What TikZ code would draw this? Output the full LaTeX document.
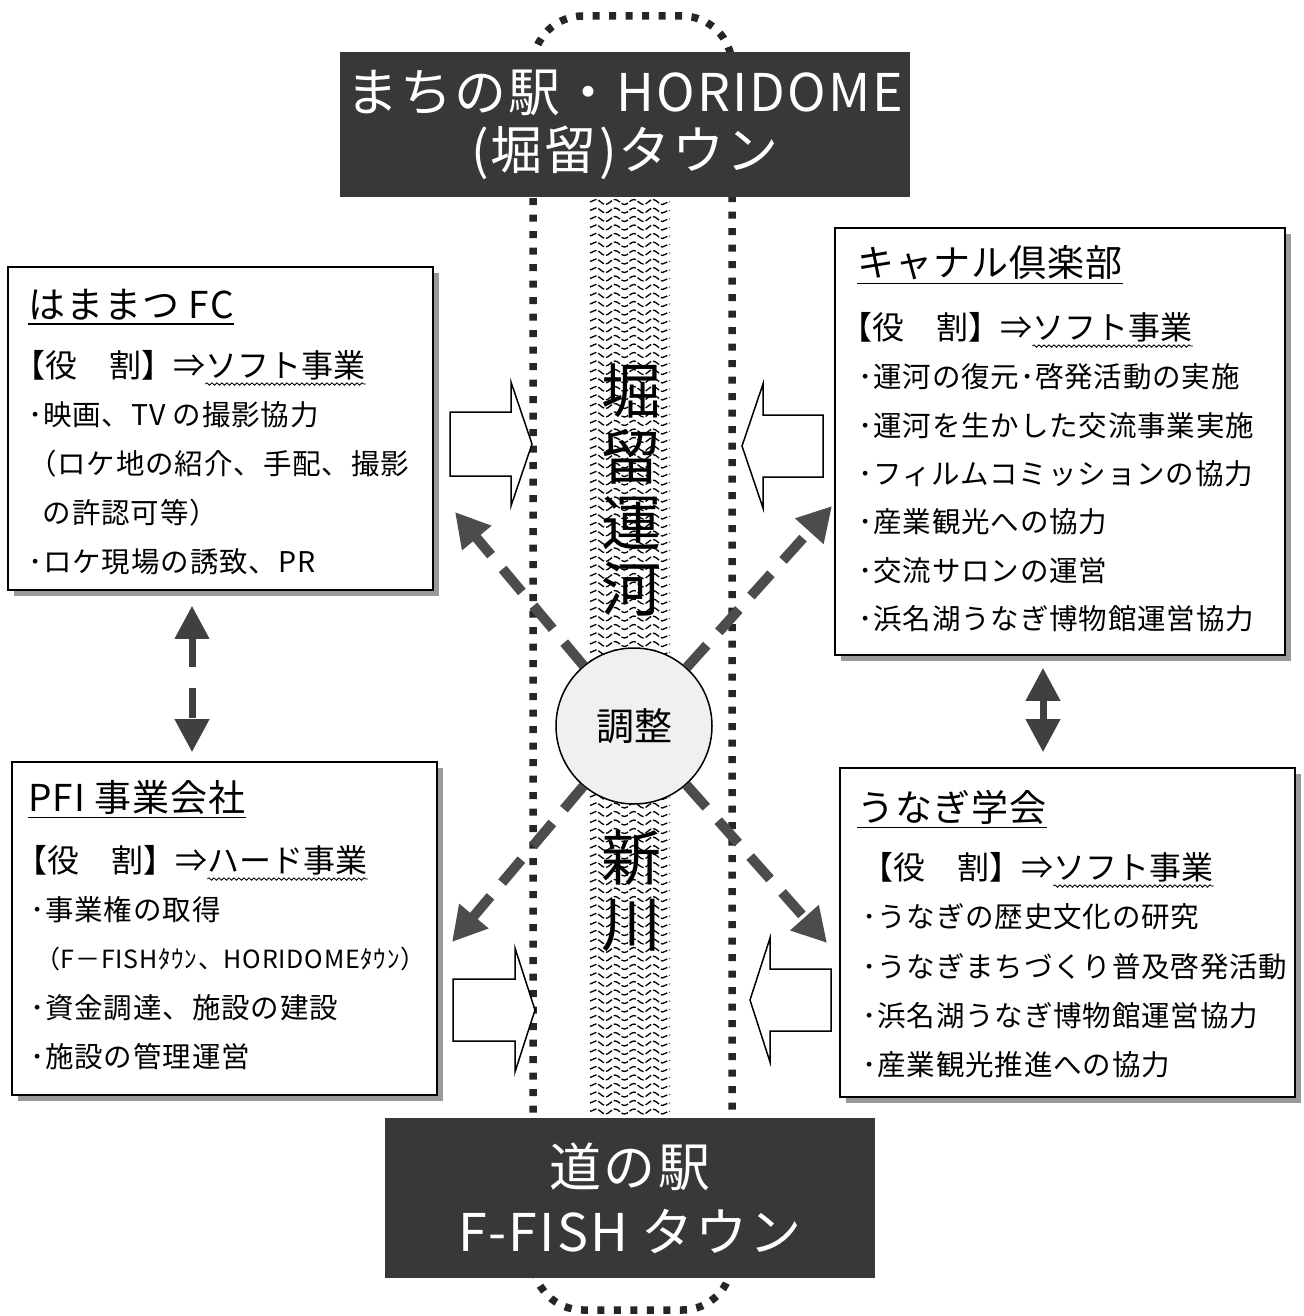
\documentclass[tikz,border=0pt]{standalone}
\usepackage{fontspec}
\setmainfont{Noto Sans CJK JP}
\usetikzlibrary{arrows.meta, positioning, shadows, decorations.pathmorphing}

\begin{document}
\begin{tikzpicture}[
  x=1pt, y=-1pt,
  panel/.style={draw, line width=1.6pt, fill=white, inner sep=0pt,
    drop shadow={shadow xshift=6pt, shadow yshift=-6pt, fill=black!40, opacity=1}},
  station/.style={fill=black!78, text=white, align=center, inner sep=0pt, font=\fontsize{52}{58}\selectfont\addfontfeature{LetterSpace=4}},
  heading/.style={anchor=west, inner xsep=0pt, inner ysep=3pt, font=\fontsize{37}{40}\selectfont\addfontfeature{LetterSpace=3}},
  rolehead/.style={anchor=west, inner sep=0pt, font=\fontsize{32}{36}\selectfont},
  itemline/.style={anchor=west, inner sep=0pt, font=\fontsize{28.5}{34}\selectfont\addfontfeature{LetterSpace=3}},
  uline/.style={line width=1.6pt},
  wavy/.style={line width=0.8pt, decorate, decoration={snake, segment length=5pt, amplitude=1.2pt}},
  ripple/.style={black, line width=1.3pt, dash pattern=on 7pt off 2pt, decorate, decoration={snake, segment length=19pt, amplitude=2.5pt}},
  canalframe/.style={black!85, line width=7.5pt, dash pattern=on 7pt off 9.5pt, rounded corners=50pt},
  canaltext/.style={align=center, inner sep=0pt, font=\fontsize{60}{66}\selectfont},
  hub/.style={circle, draw, line width=1.5pt, fill=black!6, minimum size=156pt, inner sep=0pt, font=\fontsize{38}{40}\selectfont},
  push/.style={draw, line width=1.5pt, fill=white, line join=miter},
  link/.style={black!70, line width=10pt, dash pattern=on 30pt off 18pt, -{Triangle[length=34pt, width=36pt]}},
  pair/.style={black!75, line width=7pt, {Triangle[length=33pt, width=33pt]}-{Triangle[length=33pt, width=33pt]}}
]
\useasboundingbox (0,0) rectangle (1303,1316);

\foreach \r in {0,...,107}
  \draw[ripple] (590,202+8.5*\r) -- (670,202+8.5*\r);
\draw[canalframe] (533,16) rectangle (732,1310);

\node[station, minimum width=570pt, minimum height=145pt] (horidome) at (625,124.5) {まちの駅・HORIDOME\\(堀留)タウン};
\node[station, minimum width=490pt, minimum height=160pt, font=\fontsize{52}{65}\selectfont\addfontfeature{LetterSpace=4}] (ffish) at (630,1198) {道の駅\\F-FISH タウン};

\node[canaltext] (horikawa) at (631,490) {堀\\留\\運\\河};
\node[canaltext] (shinkawa) at (631,891) {新\\川};

\node[hub] (adjust) at (634,726) {調整};

\node[panel, minimum width=425pt, minimum height=323pt] (fc) at (220.5,428.5) {};
\node[panel, minimum width=450pt, minimum height=427pt] (club) at (1060,441.5) {};
\node[panel, minimum width=425pt, minimum height=333pt] (pfi) at (224.5,928.5) {};
\node[panel, minimum width=455pt, minimum height=329pt] (unagi) at (1067.5,932.5) {};

\node[heading] (fc-name) at (28,305) {はままつ FC};
\node[rolehead] (fc-role) at (13,365) {【役　割】⇒};
\node[rolehead, anchor=base west] (fc-kind) at (fc-role.base east) {ソフト事業};
\foreach \entry [count=\i from 0] in {･映画、TV の撮影協力, （ロケ地の紹介、手配、撮影, \hspace{14.5pt}の許認可等）, ･ロケ現場の誘致、PR}
  \node[itemline] (fc-\i) at (28,415+49*\i) {\entry};

\node[heading] (club-name) at (857,263) {キャナル倶楽部};
\node[rolehead] (club-role) at (840,327) {【役　割】⇒};
\node[rolehead, anchor=base west] (club-kind) at (club-role.base east) {ソフト事業};
\foreach \entry [count=\i from 0] in {･運河の復元･啓発活動の実施, ･運河を生かした交流事業実施, ･フィルムコミッションの協力, ･産業観光への協力, ･交流サロンの運営, ･浜名湖うなぎ博物館運営協力}
  \node[itemline] (club-\i) at (858,377+48.3*\i) {\entry};

\node[heading] (pfi-name) at (28,797) {PFI 事業会社};
\node[rolehead] (pfi-role) at (15,860) {【役　割】⇒};
\node[rolehead, anchor=base west] (pfi-kind) at (pfi-role.base east) {ハード事業};
\foreach \entry [count=\i from 0] in {･事業権の取得, {\fontsize{25}{28}\selectfont\hspace{5pt}（F－FISHﾀｳﾝ、HORIDOMEﾀｳﾝ）}, ･資金調達、施設の建設, ･施設の管理運営}
  \node[itemline] (pfi-\i) at (30,910+49*\i) {\entry};

\node[heading] (unagi-name) at (857,807) {うなぎ学会};
\node[rolehead] (unagi-role) at (861,867) {【役　割】⇒};
\node[rolehead, anchor=base west] (unagi-kind) at (unagi-role.base east) {ソフト事業};
\foreach \entry [count=\i from 0] in {･うなぎの歴史文化の研究, ･うなぎまちづくり普及啓発活動, ･浜名湖うなぎ博物館運営協力, ･産業観光推進への協力}
  \node[itemline] (unagi-\i) at (862,917+49.3*\i) {\entry};

\foreach \n in {fc, club, pfi, unagi} {
  \draw[uline] (\n-name.south west) -- (\n-name.south east);
  \draw[wavy] ([yshift=-4pt]\n-kind.south west) -- ([yshift=-4pt]\n-kind.south east);
}

\draw[push] (450,412) -- (511,412) -- (511,382) -- (532,444) -- (511,506) -- (511,476) -- (450,476) -- cycle;
\draw[push] (823,415) -- (763,415) -- (763,384) -- (742,446) -- (763,508) -- (763,477) -- (823,477) -- cycle;
\draw[push] (453,979) -- (515,979) -- (515,948) -- (535,1010) -- (515,1072) -- (515,1041) -- (453,1041) -- cycle;
\draw[push] (831,969) -- (770,969) -- (770,938) -- (750,1000) -- (770,1062) -- (770,1031) -- (831,1031) -- cycle;

\coordinate (fc-in) at (455,512);
\coordinate (club-in) at (832,506);
\coordinate (pfi-in) at (452,942);
\coordinate (unagi-in) at (827,943);
\draw[link] (adjust) -- (fc-in);
\draw[link] (adjust) -- (club-in);
\draw[link] (adjust) -- (pfi-in);
\draw[link] (adjust) -- (unagi-in);

\coordinate (west-axis) at (192,700);
\coordinate (east-axis) at (1043,700);
\draw[pair, dash pattern=on 30pt off 21pt, shorten <=15pt, shorten >=9pt] (fc.south -| west-axis) -- (pfi.north -| west-axis);
\draw[pair, shorten <=12pt, shorten >=15pt] (club.south -| east-axis) -- (unagi.north -| east-axis);
\end{tikzpicture}
\end{document}
